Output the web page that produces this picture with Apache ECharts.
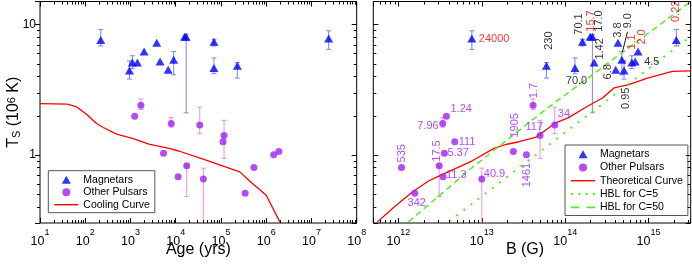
<!DOCTYPE html>
<html>
<head>
<meta charset="utf-8">
<script src="https://cdn.jsdelivr.net/npm/echarts@6/dist/echarts.min.js"></script>
<style>html,body{margin:0;padding:0;background:#fff;}#chart{width:692px;height:266px;}</style>
</head>
<body>
<div id="chart"></div>
<script>
// ================= DATA =================
const ageTicks = [1e1, 1e2, 1e3, 1e4, 1e5, 1e6, 1e7, 1e8];
const bTicks = [1e12, 1e13, 1e14, 1e15];
const tsTicks = [1, 10];

// Magnetars (label = age in kyr)
const magLabels = ['0.22','0.95','1.1','1.42','2.0','3.8','4.5','6.8','9.0','15.7','17.0','70.0','70.1','230','24000'];
const magAge = [220, 950, 1100, 1420, 2000, 3800, 4500, 6800, 9000, 15700, 17000, 70000, 70100, 230000, 24000000];
const magTs = [7.6, 4.43, 5.1, 5.1, 6.19, 7.24, 5.19, 4.49, 5.35, 8.05, 8.05, 4.63, 7.37, 4.82, 7.82];
const magTsLo = [6.84, 3.81, 4.6, null, null, null, null, null, 4.11, null, 2.1, 4.19, 6.84, 3.88, 6.45];
const magTsHi = [9.16, 5.26, 5.75, null, null, null, null, null, 6.19, null, 8.4, 5.54, 7.7, 5.1, 8.94];
const magB = [2.15e15, 5.08e14, 6.3e14, 2.22e14, 7.48e14, 4.3e14, 6.9e14, 4.04e14, 4.78e14, 1.99e14, 2.12e14, 1.31e14, 1.61e14, 5.96e13, 7.6e12];
const magRedLabels = ['0.22', '1.1', '2.0', '15.7', '24000'];

// Other pulsars (label = age in kyr)
const psrLabels = ['1.24','1.7','5.37','7.96','11.3','17.5','34','40.9','111','117','342','535','1461','1905'];
const psrAge = [1240, 1700, 5370, 7960, 11300, 17500, 34000, 40900, 111000, 117000, 342000, 535000, 1461000, 1905000];
const psrTs = [1.98, 2.40, 1.03, 1.74, 0.68, 0.825, 1.69, 0.653, 1.26, 1.41, 0.508, 0.80, 1.00, 1.06];
const psrTsLo = [null, 2.23, null, 1.63, null, 0.48, 1.45, 0.2, null, 0.94, null, null, null, null];
const psrTsHi = [null, 2.68, null, 1.93, null, 0.83, 2.32, 0.79, null, 1.84, null, null, null, null];
const psrB = [3.77e12, 4.12e13, 3.56e12, 3.4e12, 3.43e12, 3.08e12, 7.5e13, 1.0e13, 4.74e12, 5.0e13, 1.57e12, 1.09e12, 3.43e13, 2.39e13];

// Cooling curve (left)
const coolAge = [10, 40, 65, 108, 178, 250, 495, 1150, 2550, 7100, 11700, 39000, 260000, 430000, 1000000, 2000000];
const coolTs = [2.47, 2.45, 2.33, 2.04, 1.74, 1.62, 1.44, 1.33, 1.21, 1.12, 1.07, 0.93, 0.74, 0.63, 0.49, 0.306];

// Theoretical curve (right)
const theoB = [5.6e11, 8.9e11, 1.47e12, 2.3e12, 3.1e12, 7.7e12, 1.4e13, 1.94e13, 2.8e13, 4.4e13, 7.7e13, 1.1e14, 1.85e14, 2.8e14, 3.85e14, 5.8e14, 9.7e14, 1.93e15, 3.2e15];
const theoTs = [0.306, 0.398, 0.518, 0.63, 0.69, 0.90, 1.12, 1.2, 1.26, 1.36, 1.76, 1.93, 2.36, 2.73, 3.26, 3.45, 3.88, 4.36, 4.41];

// HBL lines
const hbl5B = [4.06e12, 1.02e14, 3.2e15];
const hbl5Ts = [0.309, 1.5, 8.1];
const hbl50B = [1.32e12, 7.7e12, 5.85e13, 3.0e15];
const hbl50Ts = [0.306, 0.80, 2.23, 14.5];

// ================= LABEL PLACEMENT (screen dx, dy, align, vAlign, rotate) =================
const magLabelPlace = {
  '0.22': [0, -18, 'left', 'middle', 90],
  '0.95': [2, 17, 'right', 'middle', 90],
  '1.1': [0, -13, 'left', 'middle', 90],
  '1.42': [6, -3, 'left', 'middle', 90],
  '2.0': [4, -7, 'left', 'middle', 90],
  '3.8': [0, -5, 'left', 'middle', 90],
  '4.5': [9, 0, 'left', 'middle', 0],
  '6.8': [-2, 2, 'center', 'bottom', 90],
  '9.0': [6.5, -31.5, 'left', 'middle', 90],
  '15.7': [1, -5, 'left', 'middle', 90],
  '17.0': [7, -5, 'left', 'middle', 90],
  '70.0': [1.5, 13.4, 'center', 'middle', 0],
  '70.1': [-3, -7, 'left', 'middle', 90],
  '230': [3, -16, 'left', 'middle', 90],
  '24000': [7, 1, 'left', 'middle', 0]
};
const psrLabelPlace = {
  '1.24': [4, -7, 'left', 'middle', 0],
  '1.7': [1, -7, 'left', 'middle', 90],
  '5.37': [3, 0, 'left', 'middle', 0],
  '7.96': [-4, 2, 'right', 'middle', 0],
  '11.3': [3, -2, 'left', 'middle', 0],
  '17.5': [-2, -4, 'left', 'middle', 90],
  '34': [3, -11, 'left', 'middle', 0],
  '40.9': [2, -5, 'left', 'middle', 0],
  '111': [4, 0, 'left', 'middle', 0],
  '117': [3, -8.5, 'right', 'middle', 0],
  '342': [2, 4, 'center', 'top', 0],
  '535': [0, -5, 'left', 'middle', 90],
  '1461': [1, 8, 'right', 'middle', 90],
  '1905': [2, -14, 'left', 'middle', 90]
};
const leaderLabel = '9.0';

// ================= STYLE =================
const FONT = 'Liberation Sans, Arial, Helvetica, sans-serif';
const BLUE = '#0000ff', BLUE_ERR = '#8080ff';
const PURPLE = '#a020f0', PURPLE_ERR = '#e392f2';
const RED = '#ff0000', GREEN = '#55ee22';
const X0 = [10, 1e8], X1 = [5e11, 3.2e15], Y = [0.3, 15];

function isIn(v, list) {
  return list.some(t => Math.abs(Math.log10(v) - Math.log10(t)) < 1e-6);
}
function supFmt(list) {
  return function (v) {
    if (!isIn(v, list)) return '';
    return '{b|10}{s|' + Math.round(Math.log10(v)) + '}';
  };
}
function plainFmt(list) {
  return function (v) { return isIn(v, list) ? String(Math.round(v)) : ''; };
}
const supRich = {
  b: {fontSize: 12.5, lineHeight: 20, verticalAlign: 'bottom', fontFamily: FONT, color: '#000'},
  s: {fontSize: 9, lineHeight: 9, verticalAlign: 'top', fontFamily: FONT, color: '#000'}
};

function logMinorTicks(min, max) {
  const out = [];
  for (let k = Math.floor(Math.log10(min)) - 1; k <= Math.ceil(Math.log10(max)); k++) {
    for (let m = 2; m <= 9; m++) {
      const v = m * Math.pow(10, k);
      if (v > min * 1.002 && v < max * 0.998) out.push(v);
    }
  }
  return out;
}

function errSeries(gi, xs, lo, hi, color) {
  const data = [];
  xs.forEach((x, i) => { if (lo[i] != null) data.push([x, lo[i], hi[i]]); });
  return {
    type: 'custom', xAxisIndex: gi, yAxisIndex: gi, data: data, clip: true, z: 2, silent: true,
    itemStyle: {color: color},
    encode: {x: 0, y: [1, 2]},
    renderItem: function (params, api) {
      const a = api.coord([api.value(0), api.value(2)]);
      const b = api.coord([api.value(0), api.value(1)]);
      const w = 2.5;
      const st = () => ({stroke: color, lineWidth: 1, fill: null});
      return {type: 'group', children: [
        {type: 'line', shape: {x1: a[0], y1: a[1], x2: b[0], y2: b[1]}, style: st()},
        {type: 'line', shape: {x1: a[0] - w, y1: a[1], x2: a[0] + w, y2: a[1]}, style: st()},
        {type: 'line', shape: {x1: b[0] - w, y1: b[1], x2: b[0] + w, y2: b[1]}, style: st()}
      ]};
    }
  };
}

function labeled(xs, ys, labels, place, colorFn) {
  return xs.map((x, i) => {
    const L = place[labels[i]];
    return {
      value: [x, ys[i]], name: labels[i],
      label: {
        show: true, position: 'inside', formatter: '{b}',
        align: L[2], verticalAlign: L[3], rotate: L[4],
        color: colorFn(labels[i]), fontSize: 11, fontFamily: FONT
      }
    };
  });
}
// labelLayout shifts are applied in the label's rotated frame, so convert
function layoutFn(labels, place) {
  return function (params) {
    const L = place[labels[params.dataIndex]];
    if (!L) return {};
    if (L[4] === 90) return {dx: -L[1], dy: L[0]};
    return {dx: L[0], dy: L[1]};
  };
}
const zip = (a, b) => a.map((v, i) => [v, b[i]]);

const ICON_TRI = 'path://M4.5,0L9,8L0,8Z';
const ICON_LINE = 'path://M0,0H24V1.4H0Z';
const ICON_DOT = 'path://M0,0h2v2h-2zM7,0h2v2h-2zM14,0h2v2h-2zM21,0h2v2h-2z';
const ICON_DASH = 'path://M0,0h8v1.5h-8zM15,0h8v1.5h-8z';

const tickStyle = {lineStyle: {color: '#000', width: 1}};
function frameAxis(gi, range, position, inside) {
  return {gridIndex: gi, type: 'log', logBase: 10, min: range[0], max: range[1], position: position,
    axisLine: {show: false}, splitLine: {show: false}, axisLabel: {show: false},
    axisTick: Object.assign({show: true, inside: inside, length: 5}, tickStyle)};
}

const option = {
  animation: false,
  textStyle: {fontFamily: FONT},
  grid: [
    {left: 40, top: 1.5, width: 316.7, height: 221.5, show: true, borderColor: '#000', borderWidth: 1, outerBoundsMode: 'none'},
    {left: 373.3, top: 1.5, width: 317.4, height: 221.5, show: true, borderColor: '#000', borderWidth: 1, outerBoundsMode: 'none'}
  ],
  xAxis: [
    {gridIndex: 0, type: 'log', logBase: 10, min: X0[0], max: X0[1], position: 'bottom',
      axisLine: {show: false}, splitLine: {show: false},
      axisTick: Object.assign({show: true, inside: true, length: 5}, tickStyle),
      axisLabel: {formatter: supFmt(ageTicks), rich: supRich, margin: 5},
      name: 'Age (yrs)', nameLocation: 'middle', nameGap: 19, nameMoveOverlap: false,
      nameTextStyle: {fontSize: 16, color: '#000', fontFamily: FONT}},
    {gridIndex: 1, type: 'log', logBase: 10, min: X1[0], max: X1[1], position: 'bottom',
      axisLine: {show: false}, splitLine: {show: false},
      axisTick: Object.assign({show: true, inside: true, length: 5}, tickStyle),
      axisLabel: {formatter: supFmt(bTicks), rich: supRich, margin: 5},
      name: 'B (G)', nameLocation: 'middle', nameGap: 19, nameMoveOverlap: false,
      nameTextStyle: {fontSize: 16, color: '#000', fontFamily: FONT, padding: [0, 14, 0, 0]}},
    frameAxis(0, X0, 'top', true),
    frameAxis(1, X1, 'top', true)
  ],
  yAxis: [
    {gridIndex: 0, type: 'log', logBase: 10, min: Y[0], max: Y[1], position: 'left',
      axisLine: {show: false}, splitLine: {show: false},
      axisTick: Object.assign({show: true, inside: false, length: 5}, tickStyle),
      axisLabel: {formatter: plainFmt(tsTicks), fontSize: 12, color: '#000', margin: 4, fontFamily: FONT},
      name: 'T{sub|S} (10{sup|6} K)', nameLocation: 'middle', nameRotate: 90, nameGap: 18, nameMoveOverlap: false,
      nameTextStyle: {fontSize: 16, color: '#000', fontFamily: FONT,
        rich: {
          sub: {fontSize: 11, lineHeight: 10, verticalAlign: 'bottom', fontFamily: FONT, color: '#000'},
          sup: {fontSize: 11, lineHeight: 10, verticalAlign: 'top', fontFamily: FONT, color: '#000'}
        }}},
    {gridIndex: 1, type: 'log', logBase: 10, min: Y[0], max: Y[1], position: 'left',
      axisLine: {show: false}, splitLine: {show: false},
      axisTick: Object.assign({show: true, inside: true, length: 5}, tickStyle),
      axisLabel: {show: false}},
    frameAxis(0, Y, 'right', true),
    frameAxis(1, Y, 'right', true)
  ],
  legend: [
    {data: [{name: 'Magnetars', icon: ICON_TRI}, {name: 'Other Pulsars', icon: 'circle'}, {name: 'Cooling Curve', icon: ICON_LINE}],
      orient: 'vertical', left: 48.3, top: 170.7, itemWidth: 24, itemHeight: 8, itemGap: 0.5, selectedMode: false,
      borderColor: '#555', borderWidth: 1, padding: [3, 5, 2, 6],
      textStyle: {fontSize: 10.5, lineHeight: 12, color: '#000', fontFamily: FONT}},
    {data: [{name: 'Magnetars', icon: ICON_TRI}, {name: 'Other Pulsars', icon: 'circle'}, {name: 'Theoretical Curve', icon: ICON_LINE},
        {name: 'HBL for C=5', icon: ICON_DOT}, {name: 'HBL for C=50', icon: ICON_DASH}],
      orient: 'vertical', left: 565, top: 145, itemWidth: 24, itemHeight: 8, itemGap: 1, selectedMode: false,
      borderColor: '#555', borderWidth: 1, padding: [3, 5, 2, 6],
      textStyle: {fontSize: 10.5, lineHeight: 12.3, color: '#000', fontFamily: FONT}}
  ],
  series: [
    {name: 'Cooling Curve', type: 'line', xAxisIndex: 0, yAxisIndex: 0, data: zip(coolAge, coolTs),
      symbol: 'none', lineStyle: {color: RED, width: 1.3}, itemStyle: {color: RED}, z: 3, clip: true},
    errSeries(0, magAge, magTsLo, magTsHi, BLUE_ERR),
    errSeries(0, psrAge, psrTsLo, psrTsHi, PURPLE_ERR),
    {name: 'Magnetars', type: 'scatter', xAxisIndex: 0, yAxisIndex: 0, data: zip(magAge, magTs),
      symbol: 'triangle', symbolSize: [9, 8], itemStyle: {color: BLUE}, z: 5},
    {name: 'Other Pulsars', type: 'scatter', xAxisIndex: 0, yAxisIndex: 0, data: zip(psrAge, psrTs),
      symbol: 'circle', symbolSize: 7, itemStyle: {color: PURPLE}, z: 5},

    {name: 'Theoretical Curve', type: 'line', xAxisIndex: 1, yAxisIndex: 1, data: zip(theoB, theoTs),
      symbol: 'none', lineStyle: {color: RED, width: 1.3}, itemStyle: {color: RED}, z: 3, clip: true},
    {name: 'HBL for C=5', type: 'line', xAxisIndex: 1, yAxisIndex: 1, data: zip(hbl5B, hbl5Ts),
      symbol: 'none', lineStyle: {color: GREEN, width: 2, type: [2, 7]}, itemStyle: {color: GREEN}, z: 3, clip: true},
    {name: 'HBL for C=50', type: 'line', xAxisIndex: 1, yAxisIndex: 1, data: zip(hbl50B, hbl50Ts),
      symbol: 'none', lineStyle: {color: GREEN, width: 1.5, type: [6, 4]}, itemStyle: {color: GREEN}, z: 3, clip: true},
    errSeries(1, magB, magTsLo, magTsHi, BLUE_ERR),
    errSeries(1, psrB, psrTsLo, psrTsHi, PURPLE_ERR),
    {name: 'Magnetars', type: 'scatter', xAxisIndex: 1, yAxisIndex: 1,
      data: labeled(magB, magTs, magLabels, magLabelPlace, l => magRedLabels.indexOf(l) >= 0 ? RED : '#000'),
      labelLayout: layoutFn(magLabels, magLabelPlace),
      symbol: 'triangle', symbolSize: [9, 8], itemStyle: {color: BLUE}, z: 5},
    {name: 'Other Pulsars', type: 'scatter', xAxisIndex: 1, yAxisIndex: 1,
      data: labeled(psrB, psrTs, psrLabels, psrLabelPlace, () => PURPLE),
      labelLayout: layoutFn(psrLabels, psrLabelPlace),
      symbol: 'circle', symbolSize: 7, itemStyle: {color: PURPLE}, z: 5}
  ]
};

const chart = echarts.init(document.getElementById('chart'), null, {renderer: 'canvas'});
chart.setOption(option);

// ---- Minor tick marks (positions from the library's own axis scales) ----
function minorTickGraphics(gi, xr, yr, leftOutward) {
  const els = [];
  const px = v => chart.convertToPixel({xAxisIndex: gi}, v);
  const py = v => chart.convertToPixel({yAxisIndex: gi}, v);
  const xl = px(xr[0]), xrr = px(xr[1]);
  const yb = py(yr[0]), yt = py(yr[1]);
  const len = 3;
  const mk = s => ({type: 'line', silent: true, z: 100, shape: s, style: {stroke: '#000', lineWidth: 1}});
  logMinorTicks(xr[0], xr[1]).forEach(v => {
    const x = Math.round(px(v)) + 0.5;
    els.push(mk({x1: x, y1: yb, x2: x, y2: yb - len}));
    els.push(mk({x1: x, y1: yt, x2: x, y2: yt + len}));
  });
  logMinorTicks(yr[0], yr[1]).forEach(v => {
    const y = Math.round(py(v)) + 0.5;
    els.push(mk(leftOutward ? {x1: xl - len, y1: y, x2: xl, y2: y} : {x1: xl, y1: y, x2: xl + len, y2: y}));
    els.push(mk({x1: xrr - len, y1: y, x2: xrr, y2: y}));
  });
  return els;
}
const li = magLabels.indexOf(leaderLabel);
const lp = chart.convertToPixel({gridIndex: 1}, [magB[li], magTs[li]]);
const graphics = minorTickGraphics(0, X0, Y, true).concat(minorTickGraphics(1, X1, Y, false));
if (lp && isFinite(lp[0])) {
  graphics.push({type: 'line', silent: true, z: 100,
    shape: {x1: lp[0] + 0.6, y1: lp[1] - 8, x2: lp[0] + 5.6, y2: lp[1] - 28}, style: {stroke: '#000', lineWidth: 0.9}});
}
chart.setOption({graphic: graphics});
</script>
</body>
</html>
